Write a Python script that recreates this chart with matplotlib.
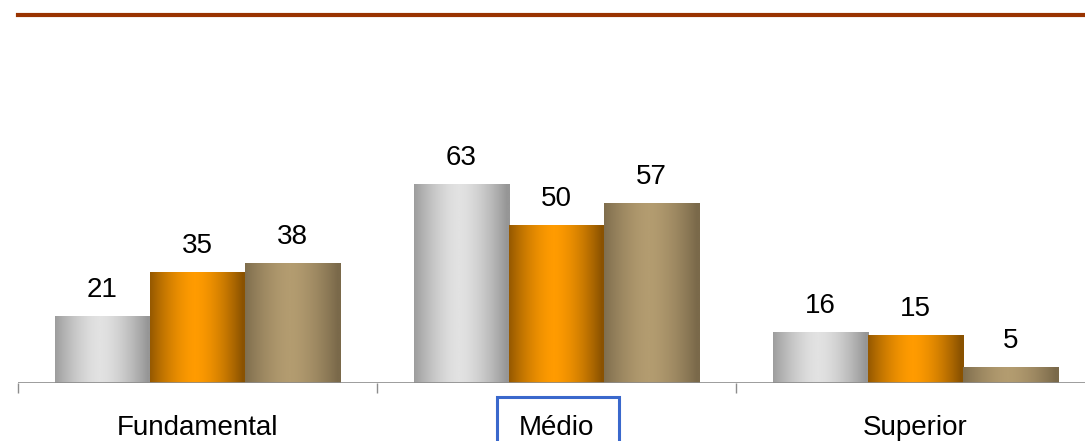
import numpy as np
import matplotlib
matplotlib.use("Agg")
import matplotlib.pyplot as plt
from matplotlib.colors import LinearSegmentedColormap
from matplotlib.patches import Rectangle
from matplotlib.lines import Line2D

plt.rcParams["font.family"] = ["Liberation Sans", "DejaVu Sans"]

categories = ["Fundamental", "Médio", "Superior"]
series_a = [21, 63, 16]   # gray
series_b = [35, 50, 15]   # orange
series_c = [38, 57, 5]    # tan

# (edge colour, centre colour) for the cylinder-ish gradients
shades = [("#969696", "#e2e2e2"), ("#8a5200", "#ff9b00"), ("#7a694a", "#b39c70")]

W, H = 1085, 441
fig = plt.figure(figsize=(W / 100, H / 100), dpi=100)
ax = fig.add_axes([18 / W, 58 / H, 1077 / W, 343 / H])

x = np.arange(len(categories))
bw = 0.265
prof = np.linspace(0, 1, 200)
grad = 1 - np.abs(2 * (prof - 0.47)) ** 1.6
grad = np.clip(grad / grad.max(), 0, 1)[None, :]

for i, (vals, (c0, c1)) in enumerate(zip([series_a, series_b, series_c], shades)):
    bars = ax.bar(x + (i - 1) * bw, vals, width=bw, color=c1, linewidth=0, zorder=2)
    cmap = LinearSegmentedColormap.from_list(f"g{i}", [c0, c1])
    for b, v in zip(bars, vals):
        ax.imshow(grad, cmap=cmap, aspect="auto", vmin=0, vmax=1,
                  extent=[b.get_x(), b.get_x() + b.get_width(), -0.6, v],
                  zorder=3, interpolation="bilinear")
        ax.text(b.get_x() + b.get_width() / 2, v + 4.3, str(v), ha="center", va="bottom",
                fontsize=20, color="black", zorder=4)

ax.set_xlim(-0.5, len(categories) - 0.5)
ax.set_ylim(0, 109)
ax.axhline(0, color="#8c8c8c", linewidth=1.2, zorder=5)
for s in ax.spines.values():
    s.set_visible(False)
ax.set_yticks([])
ax.set_xticks(np.arange(len(categories) + 1) - 0.5)
ax.set_xticklabels([])
ax.tick_params(axis="x", length=7, color="#8c8c8c", width=1)
ax.set_xticks(x, minor=True)
ax.set_xticklabels(categories, minor=True, fontsize=20)
ax.tick_params(axis="x", which="minor", length=0, pad=23)

# decorative top rule and highlight box around "Médio"
fig.add_artist(Line2D([18 / W, 1.0], [1 - 14.5 / H, 1 - 14.5 / H], color="#993300",
                      linewidth=3, transform=fig.transFigure))
fig.add_artist(Rectangle((497 / W, -0.05), 122 / W, (H - 397) / H + 0.05, fill=False,
                         edgecolor="#3a68cc", linewidth=2.2, transform=fig.transFigure))

fig.savefig("out.png", dpi=100)
